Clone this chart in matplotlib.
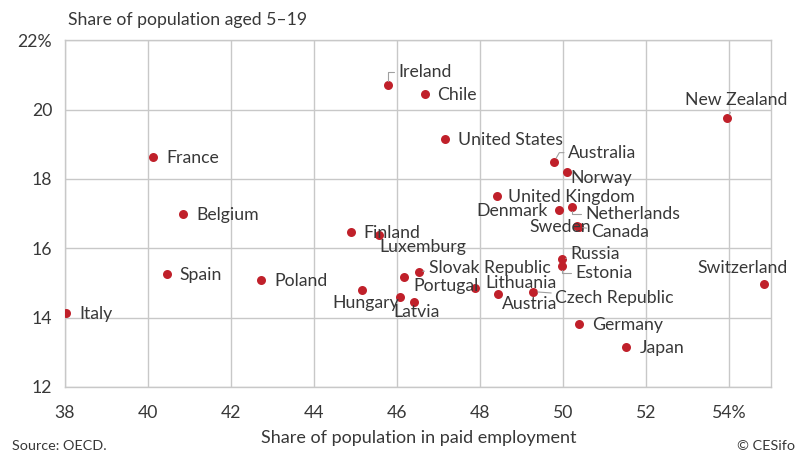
import numpy as np
import matplotlib.pyplot as plt

plt.rcParams['font.family'] = ['Lato', 'DejaVu Sans']

countries = ['Italy', 'Spain', 'France', 'Belgium', 'Poland', 'Hungary', 'Finland',
             'Luxemburg', 'Ireland', 'Chile', 'United States', 'Slovak Republic',
             'Portugal', '', 'Latvia', 'Lithuania', 'Austria', 'Czech Republic',
             'United Kingdom', 'Denmark', 'Netherlands', 'Sweden', 'Canada',
             'Australia', 'Norway', 'Russia', 'Estonia', 'Germany', 'Japan',
             'Switzerland', 'New Zealand']
employment = [38.03, 40.45, 40.13, 40.85, 42.73, 45.16, 44.89,
              45.57, 45.77, 46.67, 47.15, 46.52,
              46.17, 46.06, 46.41, 47.88, 48.42, 49.28,
              48.40, 49.90, 50.22, 50.33, 50.37,
              49.78, 50.08, 49.96, 49.98, 50.39, 51.52,
              54.83, 53.95]
young = [14.14, 15.27, 18.64, 17.00, 15.09, 14.81, 16.47,
         16.38, 20.72, 20.44, 19.15, 15.33,
         15.18, 14.60, 14.44, 14.86, 14.67, 14.75,
         17.51, 17.10, 17.20, 16.65, 16.61,
         18.50, 18.21, 15.69, 15.50, 13.83, 13.16,
         14.96, 19.75]

xticks = [38, 40, 42, 44, 46, 48, 50, 52, 54]
xticklabels = ['38', '40', '42', '44', '46', '48', '50', '52', '54%']
yticks = [12, 14, 16, 18, 20, 22]
yticklabels = ['12', '14', '16', '18', '20', '22%']

# label placement: (dx, dy) in pixels, horizontal alignment, leader line
layout = {
    'Italy': (13, -1, 'left', None),
    'Spain': (13, -1, 'left', None),
    'France': (13, -1, 'left', None),
    'Belgium': (13, -1, 'left', None),
    'Poland': (13, -1, 'left', None),
    'Hungary': (4, -13, 'center', None),
    'Finland': (12, -1, 'left', None),
    'Luxemburg': (0, -12, 'left', None),
    'Ireland': (11, 13, 'left', 'angle,angleA=0,angleB=90'),
    'Chile': (12, -1, 'left', None),
    'United States': (13, -1, 'left', None),
    'Slovak Republic': (10, 4, 'left', 'arc3'),
    'Portugal': (9, -9, 'left', None),
    'Latvia': (2, -10, 'center', None),
    'Lithuania': (10, 5, 'left', None),
    'Austria': (4, -10, 'left', None),
    'Czech Republic': (22, -6, 'left', 'arc3'),
    'United Kingdom': (11, -1, 'left', None),
    'Denmark': (-11, -1, 'right', None),
    'Netherlands': (13, -7, 'left', 'angle,angleA=0,angleB=90'),
    'Sweden': (14, -1, 'right', None),
    'Canada': (12, -5, 'left', 'arc3'),
    'Australia': (14, 9, 'left', 'angle,angleA=0,angleB=60'),
    'Norway': (4, -6, 'left', None),
    'Russia': (9, 5, 'left', 'arc3'),
    'Estonia': (13, -7, 'left', 'angle,angleA=0,angleB=90'),
    'Germany': (13, -1, 'left', None),
    'Japan': (13, -1, 'left', None),
    'Switzerland': (-21, 16, 'center', None),
    'New Zealand': (9, 18, 'center', 'arc3'),
}

text_col = '#383838'
grid_col = '#c8c8c8'
dot_col = '#c0202a'
fs = 12.7

fig = plt.figure(figsize=(8.05, 4.54), dpi=100)
ax = fig.add_axes([0.0804, 0.1476, 0.8774, 0.7636])

ax.scatter(employment, young, s=42, color=dot_col, zorder=3, linewidths=0)

for name, xv, yv in zip(countries, employment, young):
    if not name:
        continue
    dx, dy, ha, conn = layout[name]
    props = None
    if conn:
        props = dict(arrowstyle='-', color='#a0a0a0', lw=0.8,
                     connectionstyle=conn, shrinkA=1, shrinkB=3)
    ax.annotate(name, (xv, yv), xytext=(dx, dy), textcoords='offset pixels',
                ha=ha, va='center', fontsize=fs, color=text_col,
                arrowprops=props, zorder=4)

ax.set_xlim(38, 55)
ax.set_ylim(12, 22)
ax.set_xticks(xticks)
ax.set_xticklabels(xticklabels)
ax.set_yticks(yticks)
ax.set_yticklabels(yticklabels)
ax.tick_params(length=0, labelsize=fs, labelcolor=text_col)
ax.tick_params(axis='x', pad=13)
ax.tick_params(axis='y', pad=9)
ax.grid(True, color=grid_col, lw=1)
ax.set_axisbelow(True)
for s in ax.spines.values():
    s.set_color(grid_col)
    s.set_linewidth(1)

fig.text(68 / 805, 1 - 20 / 454, 'Share of population aged 5–19', ha='left',
         va='center', fontsize=fs, color=text_col)
fig.text(419 / 805, 1 - 438 / 454, 'Share of population in paid employment',
         ha='center', va='center', fontsize=13, color=text_col)
fig.text(12 / 805, 1 - 446 / 454, 'Source: OECD.', ha='left', va='center',
         fontsize=10.4, color=text_col)
fig.text(795 / 805, 1 - 446 / 454, '© CESifo', ha='right', va='center',
         fontsize=10.4, color=text_col)

fig.savefig('out.png', dpi=100)
